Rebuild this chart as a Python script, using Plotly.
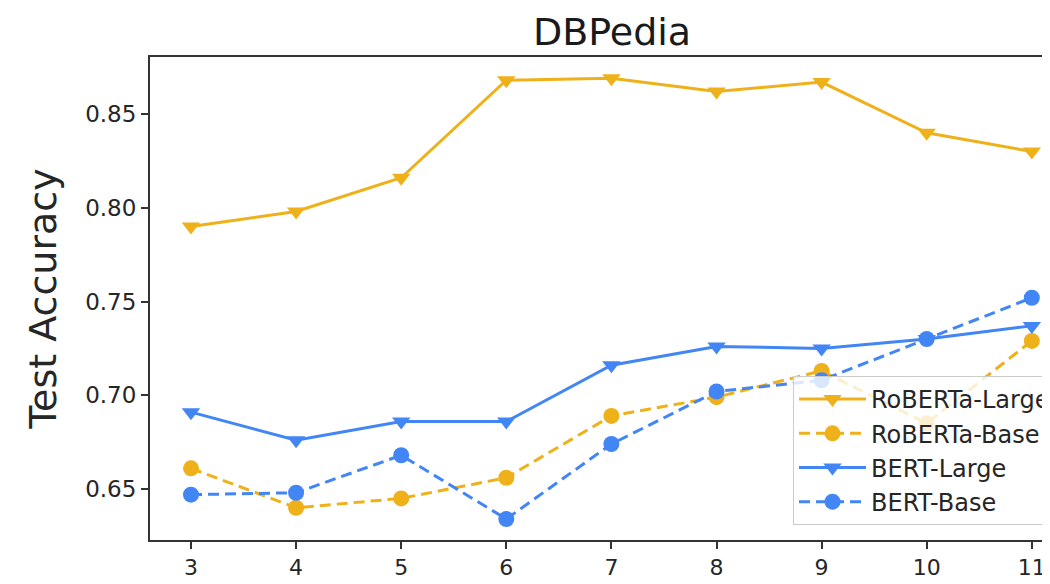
import plotly.graph_objects as go

layers = [3, 4, 5, 6, 7, 8, 9, 10, 11]
roberta_large = [0.790, 0.798, 0.816, 0.868, 0.869, 0.862, 0.867, 0.840, 0.830]
roberta_base = [0.661, 0.640, 0.645, 0.656, 0.689, 0.699, 0.713, 0.685, 0.729]
bert_large = [0.691, 0.676, 0.686, 0.686, 0.716, 0.726, 0.725, 0.730, 0.737]
bert_base = [0.647, 0.648, 0.668, 0.634, 0.674, 0.702, 0.708, 0.730, 0.752]
y_ticks = [0.65, 0.70, 0.75, 0.80, 0.85]

ORANGE = "#EFB11A"
BLUE = "#4285F4"
FONT = "DejaVu Sans"

series = [
    ("RoBERTa-Large", roberta_large, ORANGE, "solid", "triangle-down"),
    ("RoBERTa-Base", roberta_base, ORANGE, "11px,6px", "circle"),
    ("BERT-Large", bert_large, BLUE, "solid", "triangle-down"),
    ("BERT-Base", bert_base, BLUE, "11px,6px", "circle"),
]

fig = go.Figure()
for name, vals, color, dash, sym in series:
    fig.add_trace(go.Scatter(
        x=layers, y=vals, name=name, mode="lines+markers",
        line=dict(color=color, width=3, dash=dash),
        marker=dict(symbol=sym, size=16, color=color),
    ))

# page renders the figure at an (8, 8) offset
W, H = 1042, 576
fig.update_layout(
    width=W, height=H,
    margin=dict(l=142, r=0, t=49, b=44, autoexpand=False),
    paper_bgcolor="white", plot_bgcolor="white",
    font=dict(family=FONT, color="#262626", size=22),
    title=dict(text="DBPedia", x=604/W, xref="container", xanchor="center",
               y=1 - 24/H, yref="container", yanchor="middle",
               font=dict(size=38, family=FONT, color="#1a1a1a")),
    xaxis=dict(range=[2.61, 11.173], tickmode="array", tickvals=layers,
               showgrid=False, zeroline=False, showline=True, linecolor="#333333",
               linewidth=2, mirror=True, ticks="outside", ticklen=7, tickwidth=1.5,
               tickcolor="#333333", tickfont=dict(size=22)),
    yaxis=dict(range=[0.6228, 0.8804], tickmode="array", tickvals=y_ticks,
               ticktext=[f"{v:.2f}" for v in y_ticks],
               showgrid=False, zeroline=False, showline=True, linecolor="#333333",
               linewidth=2, mirror=False, ticks="outside", ticklen=7, tickwidth=1.5,
               tickcolor="#333333", tickfont=dict(size=23),
               title=dict(text="Test Accuracy", font=dict(size=38), standoff=17)),
    legend=dict(x=(785-142)/900, xanchor="left", y=(532-368)/483, yanchor="top",
                bgcolor="rgba(255,255,255,0.8)", bordercolor="#cccccc", borderwidth=1,
                font=dict(size=24), itemwidth=67, tracegroupgap=0),
    showlegend=True,
)

fig.write_html("out.html")
